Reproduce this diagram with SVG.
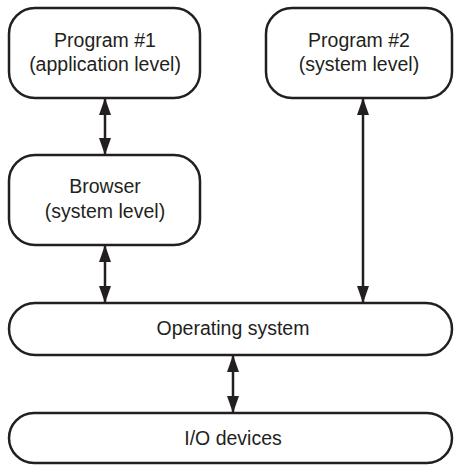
<svg xmlns="http://www.w3.org/2000/svg" width="455" height="465" viewBox="0 0 455 465">
<defs>
<style>
.box{fill:#fff;stroke:#231f20;stroke-width:2.5}
.t{font-family:"Liberation Sans",Arial,sans-serif;font-size:19.5px;fill:#231f20;text-anchor:middle}
.c{stroke:#231f20;stroke-width:2.5;fill:none;marker-start:url(#ah);marker-end:url(#ah)}
</style>
<marker id="ah" viewBox="0 0 17 12" refX="16" refY="6" markerWidth="17" markerHeight="12" markerUnits="userSpaceOnUse" orient="auto-start-reverse">
<path d="M0,0 L17,6 L0,12 Z" fill="#231f20"/>
</marker>
</defs>
<rect width="455" height="465" fill="#fff"/>
<g id="connectors">
<line class="c" x1="105" y1="99" x2="105" y2="154"/>
<line class="c" x1="105" y1="246" x2="105" y2="302"/>
<line class="c" x1="363" y1="99" x2="363" y2="302"/>
<line class="c" x1="233" y1="356" x2="233" y2="412"/>
</g>
<g id="program1">
<rect class="box" x="9" y="8" width="191" height="90" rx="26" ry="26"/>
<text class="t" x="105" y="47">Program #1</text>
<text class="t" x="105" y="71">(application level)</text>
</g>
<g id="program2">
<rect class="box" x="266" y="8" width="186" height="90" rx="26" ry="26"/>
<text class="t" x="359" y="47">Program #2</text>
<text class="t" x="359" y="71">(system level)</text>
</g>
<g id="browser">
<rect class="box" x="9" y="155" width="191" height="90" rx="26" ry="26"/>
<text class="t" x="105" y="193">Browser</text>
<text class="t" x="105" y="218">(system level)</text>
</g>
<g id="os">
<rect class="box" x="9" y="303" width="443" height="52" rx="26" ry="26"/>
<text class="t" x="233" y="335">Operating system</text>
</g>
<g id="io">
<rect class="box" x="9" y="413" width="443" height="50" rx="25" ry="25"/>
<text class="t" x="233" y="445">I/O devices</text>
</g>
</svg>
